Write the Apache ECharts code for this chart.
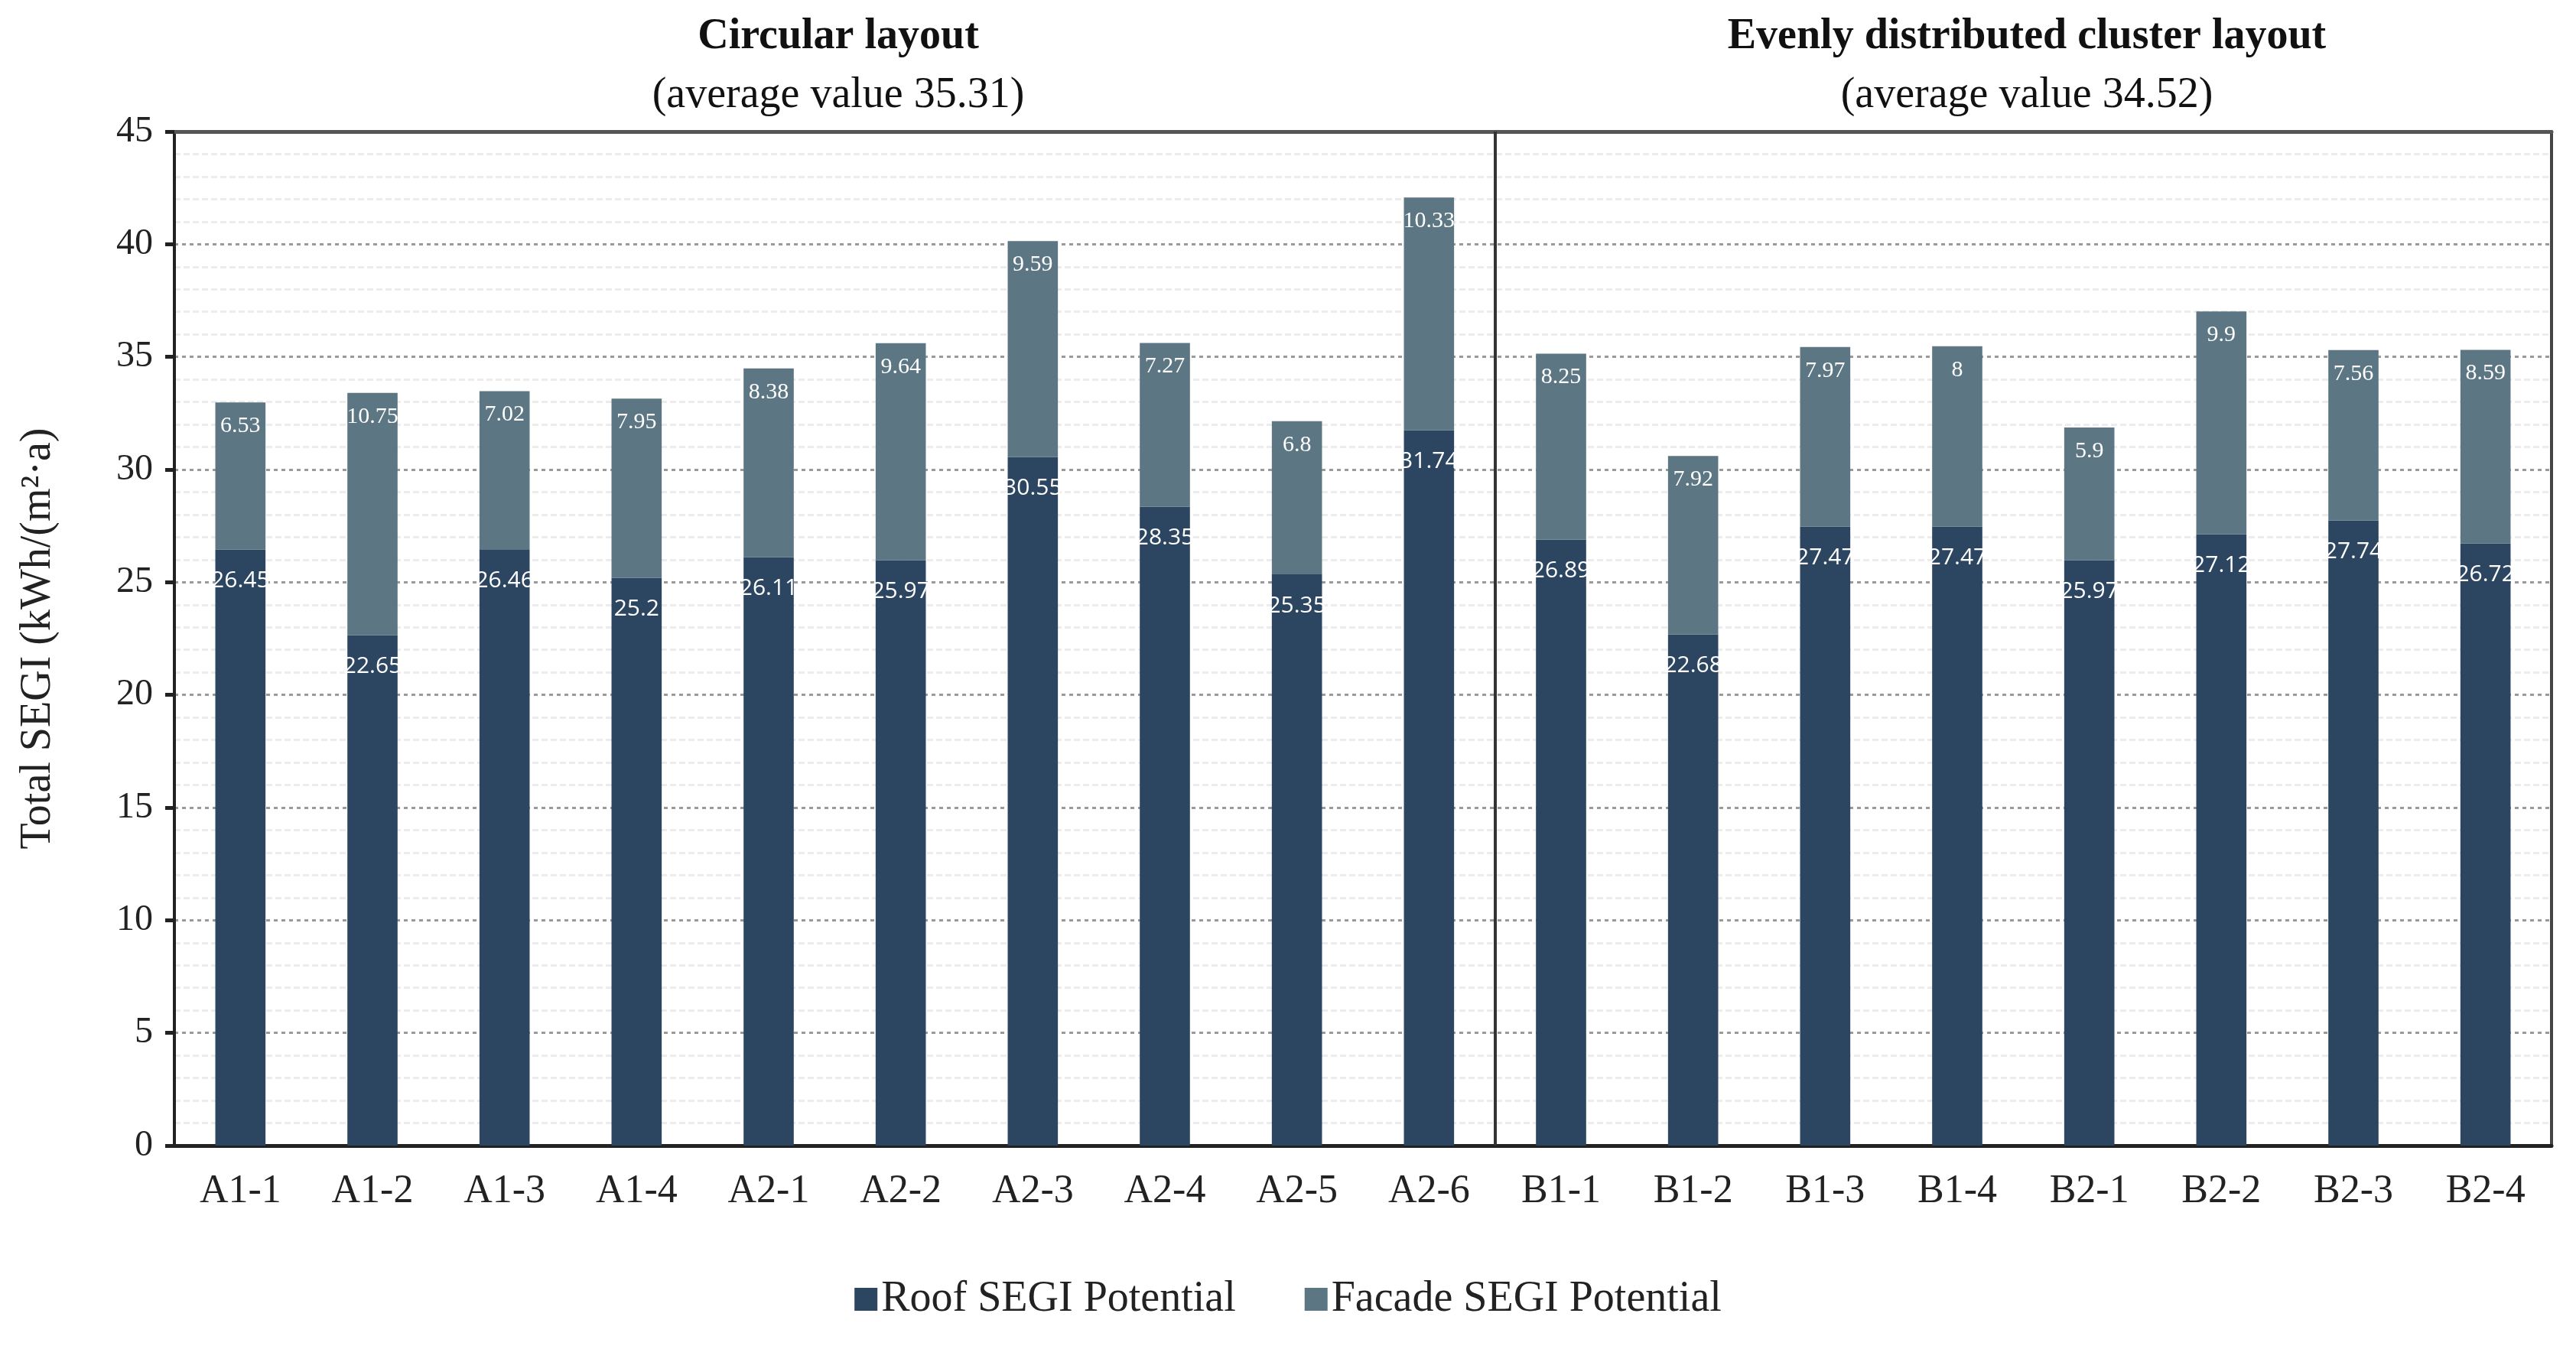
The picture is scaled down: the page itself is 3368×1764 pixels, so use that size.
<!DOCTYPE html>
<html>
<head>
<meta charset="utf-8">
<script src="https://cdn.jsdelivr.net/npm/echarts@6/dist/echarts.min.js"></script>
<style>
  html, body { margin: 0; padding: 0; background: #fff; }
  #main { width: 3368px; height: 1764px; }
</style>
</head>
<body>
<div id="main"></div>
<script>
// layouts A (circular) and B (evenly distributed cluster)
var categories = ['A1-1', 'A1-2', 'A1-3', 'A1-4', 'A2-1', 'A2-2', 'A2-3', 'A2-4', 'A2-5', 'A2-6',
    'B1-1', 'B1-2', 'B1-3', 'B1-4', 'B2-1', 'B2-2', 'B2-3', 'B2-4'];
var roofValues = [26.45, 22.65, 26.46, 25.2, 26.11, 25.97, 30.55, 28.35, 25.35, 31.74,
    26.89, 22.68, 27.47, 27.47, 25.97, 27.12, 27.74, 26.72];
var facadeValues = [6.53, 10.75, 7.02, 7.95, 8.38, 9.64, 9.59, 7.27, 6.8, 10.33,
    8.25, 7.92, 7.97, 8, 5.9, 9.9, 7.56, 8.59];
var groupSplitAt = 10; // first B category index

var serif = "'Liberation Serif', 'Times New Roman', serif";

var chart = echarts.init(document.getElementById('main'));

var option = {
    backgroundColor: '#fff',
    animation: false,
    title: [
        {
            text: 'Circular layout',
            subtext: '(average value 35.31)',
            left: 1091,
            top: 16,
            textAlign: 'center',
            itemGap: 20,
            textStyle: { fontFamily: serif, fontSize: 56, fontWeight: 'bold', color: '#111' },
            subtextStyle: { fontFamily: serif, fontSize: 56, color: '#111' }
        },
        {
            text: 'Evenly distributed cluster layout',
            subtext: '(average value 34.52)',
            left: 2645,
            top: 16,
            textAlign: 'center',
            itemGap: 20,
            textStyle: { fontFamily: serif, fontSize: 56, fontWeight: 'bold', color: '#111' },
            subtextStyle: { fontFamily: serif, fontSize: 56, color: '#111' }
        }
    ],
    legend: {
        top: 1666,
        left: 'center',
        icon: 'rect',
        itemWidth: 30,
        itemHeight: 30,
        itemGap: 90,
        textStyle: { fontFamily: serif, fontSize: 56, color: '#222' },
        data: ['Roof SEGI Potential', 'Facade SEGI Potential']
    },
    grid: { left: 228, right: 32, top: 172, bottom: 266 },
    xAxis: [
        {
            type: 'category',
            data: categories,
            axisLine: { onZero: false, lineStyle: { color: '#222', width: 5 } },
            axisTick: { length: 16, lineStyle: { color: '#222', width: 4 } },
            axisLabel: { fontFamily: serif, fontSize: 52, color: '#222', margin: 34 }
        },
        {
            type: 'category',
            data: categories,
            position: 'top',
            axisLine: { onZero: false, lineStyle: { color: '#555', width: 5 } },
            axisTick: { show: false },
            axisLabel: { show: false }
        },
        {
            // hidden helper axis used for the group divider
            type: 'value',
            min: 0,
            max: categories.length,
            show: false
        }
    ],
    yAxis: [
        {
            type: 'value',
            min: 0,
            max: 45,
            interval: 5,
            name: 'Total SEGI (kWh/(m²·a)',
            nameLocation: 'middle',
            nameGap: 150,
            nameTextStyle: { fontFamily: serif, fontSize: 56, color: '#222' },
            axisLine: { show: true, onZero: false, lineStyle: { color: '#222', width: 4 } },
            axisTick: { show: true, length: 12, lineStyle: { color: '#222', width: 5 } },
            axisLabel: { fontFamily: serif, fontSize: 48, color: '#222', margin: 28 },
            splitLine: { lineStyle: { color: '#9a9a9a', width: 3, type: [5, 5] } },
            minorTick: { show: false, splitNumber: 5 },
            minorSplitLine: { show: true, lineStyle: { color: '#ececec', width: 3, type: [8, 4] } }
        },
        {
            type: 'value',
            min: 0,
            max: 45,
            interval: 5,
            position: 'right',
            axisLine: { show: true, onZero: false, lineStyle: { color: '#444', width: 4 } },
            axisTick: { show: false },
            axisLabel: { show: false },
            splitLine: { show: false }
        }
    ],
    series: [
        {
            name: 'Roof SEGI Potential',
            type: 'bar',
            stack: 'total',
            barWidth: '38%',
            data: roofValues,
            itemStyle: { color: '#2c4560' },
            label: {
                show: true,
                position: 'insideTop',
                distance: 26,
                fontFamily: "'Open Sans', sans-serif",
                fontSize: 30,
                color: '#fff'
            }
        },
        {
            name: 'Facade SEGI Potential',
            type: 'bar',
            stack: 'total',
            barWidth: '38%',
            data: facadeValues,
            itemStyle: { color: '#5c7683' },
            label: {
                show: true,
                position: 'insideTop',
                distance: 16,
                fontFamily: serif,
                fontSize: 30,
                color: '#fff'
            }
        },
        {
            type: 'line',
            xAxisIndex: 2,
            yAxisIndex: 0,
            data: [],
            silent: true,
            markLine: {
                symbol: 'none',
                silent: true,
                label: { show: false },
                lineStyle: { color: '#333', width: 4, type: 'solid' },
                data: [{ xAxis: groupSplitAt }]
            }
        }
    ]
};

chart.setOption(option);
</script>
</body>
</html>
